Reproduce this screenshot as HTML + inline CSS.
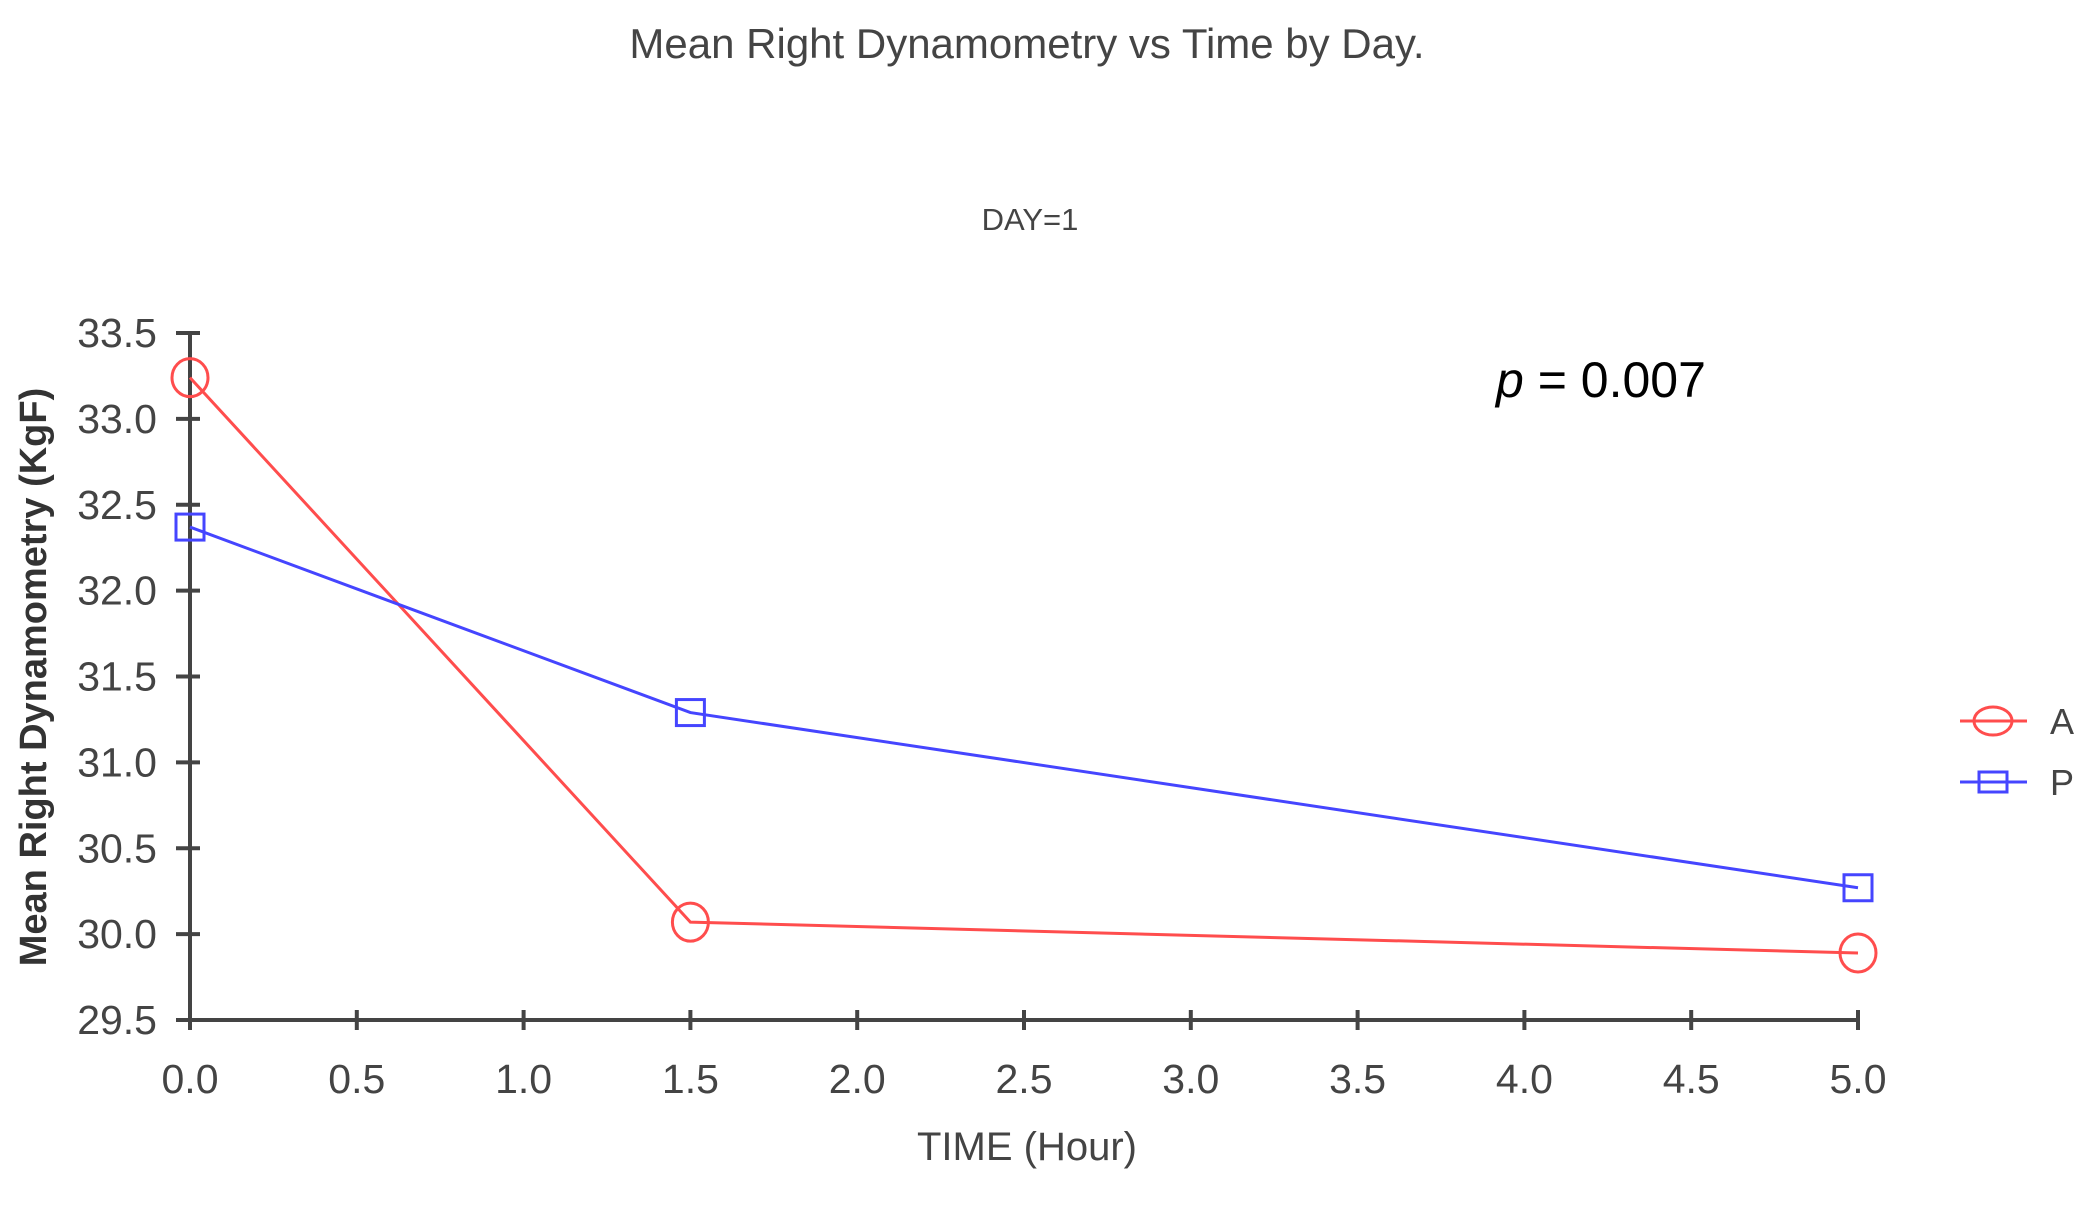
<!DOCTYPE html>
<html><head><meta charset="utf-8"><style>
body{margin:0;background:#fff;}
svg text{font-family:"Liberation Sans",Arial,sans-serif;fill:#444;}
</style></head><body>
<svg id="chart" width="2099" height="1200" xmlns="http://www.w3.org/2000/svg">
<text x="1027" y="58" font-size="42" text-anchor="middle">Mean Right Dynamometry vs Time by Day.</text>
<text x="1030" y="230" font-size="31" text-anchor="middle">DAY=1</text>
<text x="1496" y="397" font-size="50" style="fill:#000"><tspan font-style="italic">p</tspan> = 0.007</text>
<text x="1027" y="1160" font-size="40" text-anchor="middle">TIME (Hour)</text>
<text transform="translate(46,677) rotate(-90)" font-size="38" text-anchor="middle" font-weight="bold" style="fill:#333">Mean Right Dynamometry (KgF)</text>
<g id="axes"></g><g id="series"></g><g id="legend"></g>
</svg>
<script>
const xTicks=[0,0.5,1,1.5,2,2.5,3,3.5,4,4.5,5];
const yTicks=[29.5,30,30.5,31,31.5,32,32.5,33,33.5];
const times=[0,1.5,5];
const seriesA=[33.24,30.07,29.89];
const seriesP=[32.37,31.29,30.27];
const NS="http://www.w3.org/2000/svg";
const X=v=>190+v*333.6;
const Y=v=>1020-(v-29.5)*171.75;
function mk(tag,attrs,parent){const e=document.createElementNS(NS,tag);for(const k in attrs)e.setAttribute(k,attrs[k]);parent.appendChild(e);return e;}
const ax=document.getElementById('axes');
let l=mk('line',{x1:X(0),x2:X(5),y1:Y(29.5),y2:Y(29.5),stroke:'#444','stroke-width':4},ax);


l=mk('line',{x1:X(0),x2:X(0),y1:Y(29.5),y2:Y(33.5),stroke:'#444','stroke-width':4},ax);


xTicks.forEach(v=>{
 const t=mk('line',{x1:X(v),x2:X(v),y1:Y(29.5)-10,y2:Y(29.5)+10,stroke:'#444','stroke-width':4},ax);
 
 
 const tx=mk('text',{x:X(v),y:1093,'font-size':41,'text-anchor':'middle'},ax);tx.textContent=v.toFixed(1);
 
 
});
yTicks.forEach(v=>{
 const t=mk('line',{x1:X(0)-14,x2:X(0)+10,y1:Y(v),y2:Y(v),stroke:'#444','stroke-width':4},ax);
 
 
 const tx=mk('text',{x:157,y:Y(v)+14,'font-size':41,'text-anchor':'end'},ax);tx.textContent=v.toFixed(1);
 
 
});
const sg=document.getElementById('series');
function drawSeries(vals,color,shape,name){
 const p=mk('polyline',{points:times.map((t,i)=>X(t)+','+Y(vals[i])).join(' '),fill:'none',stroke:color,'stroke-width':3},sg);
 
 
 times.forEach((t,i)=>{
  let m;
  if(shape==='circle')m=mk('ellipse',{cx:X(t),cy:Y(vals[i]),rx:18,ry:19,fill:'none',stroke:color,'stroke-width':3},sg);
  else m=mk('rect',{x:X(t)-14,y:Y(vals[i])-13,width:28,height:26,fill:'none',stroke:color,'stroke-width':3},sg);
  
  
 });
}
drawSeries(seriesA,'#ff4d4d','circle','series-a');
drawSeries(seriesP,'#4545ff','square','series-p');
const lg=document.getElementById('legend');
[['A','#ff4d4d','circle',721],['P','#4545ff','square',782]].forEach(([n,c,s,y])=>{
 const g=mk('g',{},lg);
 
 
 mk('line',{x1:1960,x2:2027,y1:y,y2:y,stroke:c,'stroke-width':3},g);
 if(s==='circle')mk('ellipse',{cx:1993,cy:y,rx:19,ry:14,fill:'none',stroke:c,'stroke-width':3},g);
 else mk('rect',{x:1979,y:y-10,width:28,height:20,fill:'none',stroke:c,'stroke-width':3},g);
 const t=mk('text',{x:2050,y:y+13,'font-size':36},g);t.textContent=n;
});
</script>
</body></html>
